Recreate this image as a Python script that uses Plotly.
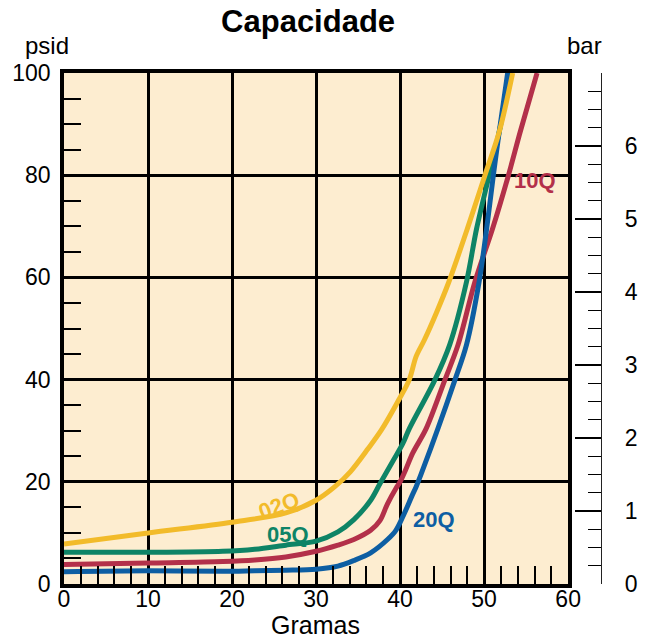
import plotly.graph_objects as go

# Grams of contaminant retained vs. differential pressure (psid)
g_02q = [0, 10, 20, 26.4, 30, 32.2, 34.1, 36.2, 37.8, 39.9, 41.1, 41.9, 42.9, 44.3, 45.8, 48.0, 50.1, 51.8, 53.4]
p_02q = [7.8, 10.0, 12.1, 13.9, 16.4, 19.0, 22.0, 26.5, 30.2, 36.2, 40.0, 44.5, 47.8, 53.0, 59.1, 69.5, 80.0, 88.5, 100]

g_05q = [0, 10, 18.9, 22.7, 26.4, 30, 32.6, 34.5, 36.5, 37.6, 39.2, 40.3, 41.1, 44.1, 45.9, 47.9, 49.1, 50.6, 51.8, 53.1]
p_05q = [6.2, 6.2, 6.4, 6.8, 7.6, 8.4, 10.2, 12.6, 16.4, 19.6, 24.2, 27.4, 30.4, 39.8, 46.8, 59.1, 69.5, 80.0, 88.5, 100]

g_10q = [0, 10, 18.9, 22.7, 26.4, 30, 32.6, 34.5, 36.5, 37.6, 38.5, 39.5, 40.0, 40.7, 41.5, 43.1, 45.3, 46.9, 48.9, 51.0, 52.9, 54.3, 56.3]
p_10q = [3.8, 4.1, 4.4, 4.7, 5.3, 6.4, 7.6, 8.7, 10.5, 12.4, 15.7, 18.7, 20.0, 22.5, 25.6, 30.4, 39.8, 46.8, 59.1, 69.5, 80.0, 88.5, 100]

g_20q = [0, 10, 18.9, 22.7, 26.4, 30, 32.6, 34.5, 36.5, 38.5, 39.5, 40.5, 41.4, 41.9, 42.5, 44.5, 46.5, 47.9, 49.4, 50.3, 51.1, 51.8, 52.8]
p_20q = [2.4, 2.6, 2.5, 2.6, 2.7, 2.9, 3.5, 4.6, 6.1, 8.7, 10.5, 13.8, 17.2, 19.0, 21.5, 30.4, 39.8, 46.8, 59.1, 69.5, 80.0, 88.5, 100]

series_names = ["10Q", "05Q", "20Q", "02Q"]
series_x = [g_10q, g_05q, g_20q, g_02q]
series_y = [p_10q, p_05q, p_20q, p_02q]
series_colors = ["#B3304A", "#0E8466", "#0D5EA3", "#F2BB2A"]

# label placement (grams, psid, rotation)
label_pos = {"02Q": (25.6, 15.4, -20), "05Q": (26.6, 9.6, 0), "10Q": (56.1, 78.9, 0), "20Q": (44.0, 12.7, 0)}

bar_ticks = [0, 1, 2, 3, 4, 5, 6, 7]
bar_text = ["0", "1", "2", "3", "4", "5", "6", ""]

FONT = "Liberation Sans, Arial, Helvetica, sans-serif"

fig = go.Figure()
for name, xs, ys, col in zip(series_names, series_x, series_y, series_colors):
    fig.add_trace(go.Scatter(
        x=xs, y=ys, mode="lines", name=name,
        line=dict(color=col, width=5, shape="spline", smoothing=0.9),
        hoverinfo="skip", showlegend=False,
    ))
    lx, ly, rot = label_pos[name]
    fig.add_annotation(x=lx, y=ly, text=f"<b>{name}</b>", showarrow=False,
                       textangle=rot, font=dict(family=FONT, size=22, color=col))

# carrier trace for the secondary (bar) axis
fig.add_trace(go.Scatter(x=[0], y=[0], yaxis="y2", mode="markers",
                         marker=dict(opacity=0), hoverinfo="skip", showlegend=False))

axis_common = dict(
    showgrid=True, gridcolor="black", gridwidth=3,
    showline=True, linecolor="black", linewidth=3.5, mirror=True,
    zeroline=False, ticks="",
    tickfont=dict(family=FONT, size=23, color="black"),
)

fig.update_layout(
    width=650, height=641,
    margin=dict(l=62, r=49, t=73, b=57),
    paper_bgcolor="white", plot_bgcolor="#FDEDD0",
    title=dict(text="<b>Capacidade</b>", x=0.474, xref="container", xanchor="center",
               y=0.967, yref="container", yanchor="middle",
               font=dict(family=FONT, size=31, color="black")),
    xaxis=dict(range=[0, 60], domain=[0, 0.9388], dtick=10, tick0=0,
               ticklabelstandoff=-8,
               minor=dict(dtick=2, ticks="inside", ticklen=18, tickwidth=1.5,
                          tickcolor="black", showgrid=False),
               **axis_common),
    yaxis=dict(range=[0, 100], dtick=20, tick0=0,
               ticklabelstandoff=5,
               minor=dict(dtick=5, ticks="inside", ticklen=17, tickwidth=1.5,
                          tickcolor="black", showgrid=False),
               **axis_common),
    yaxis2=dict(range=[0, 7], overlaying="y", anchor="free", position=1, side="right",
                tickvals=bar_ticks, ticktext=bar_text,
                ticks="inside", ticklen=26, tickwidth=1.5, tickcolor="black",
                minor=dict(dtick=0.25, ticks="inside", ticklen=13, tickwidth=1.2,
                           tickcolor="black", showgrid=False),
                showline=True, linecolor="#222222", linewidth=1.2,
                showgrid=False, zeroline=False, ticklabelstandoff=18,
                tickfont=dict(family=FONT, size=23, color="black")),
)

fig.add_annotation(text="psid", x=-0.0315, y=1.053, xref="paper", yref="paper",
                   xanchor="center", yanchor="middle",
                   showarrow=False, font=dict(family=FONT, size=24, color="black"))
fig.add_annotation(text="bar", x=0.970, y=1.053, xref="paper", yref="paper",
                   xanchor="center", yanchor="middle",
                   showarrow=False, font=dict(family=FONT, size=24, color="black"))
fig.add_annotation(text="Gramas", x=0.468, y=-0.081, xref="paper", yref="paper",
                   xanchor="center", yanchor="middle",
                   showarrow=False, font=dict(family=FONT, size=25, color="black"))

fig.write_html("out.html")
